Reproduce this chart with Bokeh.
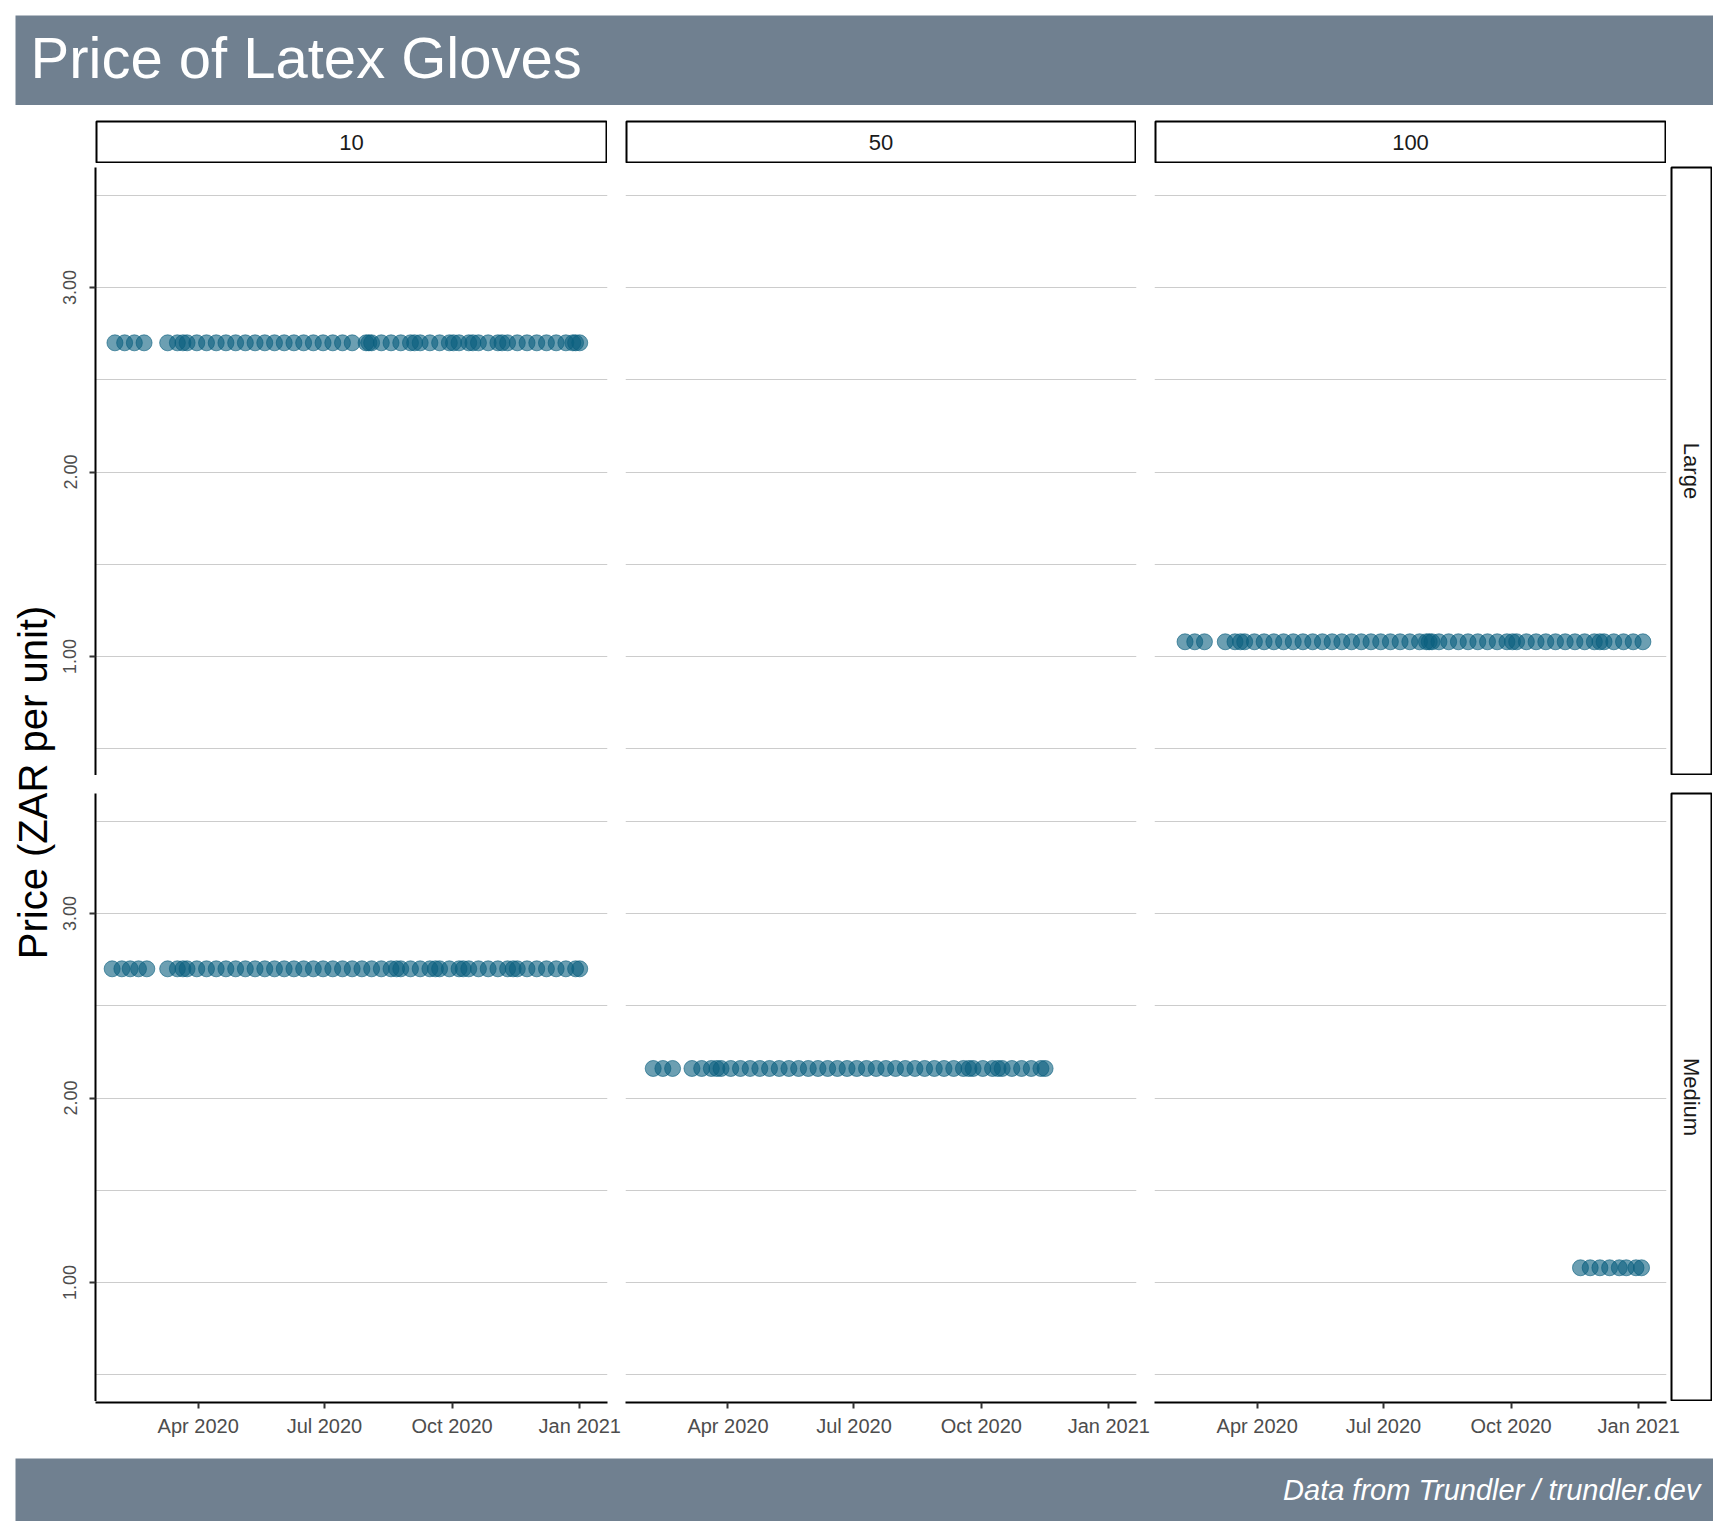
import math
from datetime import datetime
from bokeh.plotting import figure
from bokeh.models import (ColumnDataSource, FixedTicker, DatetimeTickFormatter, Range1d,
                          Label, Spacer, DatetimeAxis, LinearAxis, Grid, NumeralTickFormatter)
from bokeh.layouts import row, column
from bokeh.embed import file_html
from bokeh.resources import INLINE

# ---------------- data ----------------
TITLE = "Price of Latex Gloves"
CAPTION = "Data from Trundler / trundler.dev"
Y_LABEL = "Price (ZAR per unit)"
PACK_SIZES = ["10", "50", "100"]
GLOVE_SIZES = ["Large", "Medium"]
Y_TICKS = [1.0, 2.0, 3.0]
Y_GRID = [0.5, 1.0, 1.5, 2.0, 2.5, 3.0, 3.5]
Y_LIMITS = [0.35, 3.65]
X_TICK_DATES = ["2020-04-01", "2020-07-01", "2020-10-01", "2021-01-01"]
X_LIMITS = ["2020-01-18", "2021-01-21"]

dates_large_10 = ["2020-02-01", "2020-02-08", "2020-02-15", "2020-02-22", "2020-03-10", "2020-03-17",
                  "2020-03-21", "2020-03-24", "2020-03-31", "2020-04-07", "2020-04-14", "2020-04-21",
                  "2020-04-28", "2020-05-05", "2020-05-12", "2020-05-19", "2020-05-26", "2020-06-02",
                  "2020-06-09", "2020-06-16", "2020-06-23", "2020-06-30", "2020-07-07", "2020-07-14",
                  "2020-07-21", "2020-07-31", "2020-08-02", "2020-08-04", "2020-08-11", "2020-08-18",
                  "2020-08-25", "2020-09-01", "2020-09-04", "2020-09-08", "2020-09-15", "2020-09-22",
                  "2020-09-29", "2020-10-02", "2020-10-06", "2020-10-13", "2020-10-16", "2020-10-20",
                  "2020-10-27", "2020-11-03", "2020-11-06", "2020-11-10", "2020-11-17", "2020-11-24",
                  "2020-12-01", "2020-12-08", "2020-12-15", "2020-12-22", "2020-12-27", "2020-12-29",
                  "2021-01-01"]
price_large_10 = 2.70

dates_medium_10 = ["2020-01-30", "2020-02-06", "2020-02-12", "2020-02-18", "2020-02-24", "2020-03-10",
                   "2020-03-17", "2020-03-21", "2020-03-24", "2020-03-31", "2020-04-07", "2020-04-14",
                   "2020-04-21", "2020-04-28", "2020-05-05", "2020-05-12", "2020-05-19", "2020-05-26",
                   "2020-06-02", "2020-06-09", "2020-06-16", "2020-06-23", "2020-06-30", "2020-07-07",
                   "2020-07-14", "2020-07-21", "2020-07-28", "2020-08-04", "2020-08-11", "2020-08-18",
                   "2020-08-22", "2020-08-25", "2020-09-01", "2020-09-08", "2020-09-15", "2020-09-19",
                   "2020-09-22", "2020-09-29", "2020-10-06", "2020-10-09", "2020-10-13", "2020-10-20",
                   "2020-10-27", "2020-11-03", "2020-11-10", "2020-11-14", "2020-11-17", "2020-11-24",
                   "2020-12-01", "2020-12-08", "2020-12-15", "2020-12-22", "2020-12-29", "2021-01-01"]
price_medium_10 = 2.70

dates_medium_50 = ["2020-02-07", "2020-02-14", "2020-02-21", "2020-03-06", "2020-03-13", "2020-03-20",
                   "2020-03-24", "2020-03-27", "2020-04-03", "2020-04-10", "2020-04-17", "2020-04-24",
                   "2020-05-01", "2020-05-08", "2020-05-15", "2020-05-22", "2020-05-29", "2020-06-05",
                   "2020-06-12", "2020-06-19", "2020-06-26", "2020-07-03", "2020-07-10", "2020-07-17",
                   "2020-07-24", "2020-07-31", "2020-08-07", "2020-08-14", "2020-08-21", "2020-08-28",
                   "2020-09-04", "2020-09-11", "2020-09-18", "2020-09-22", "2020-09-25", "2020-10-02",
                   "2020-10-09", "2020-10-13", "2020-10-16", "2020-10-23", "2020-10-30", "2020-11-06",
                   "2020-11-13", "2020-11-16"]
price_medium_50 = 2.16

dates_large_100 = ["2020-02-09", "2020-02-16", "2020-02-23", "2020-03-09", "2020-03-16", "2020-03-20",
                   "2020-03-23", "2020-03-30", "2020-04-06", "2020-04-13", "2020-04-20", "2020-04-27",
                   "2020-05-04", "2020-05-11", "2020-05-18", "2020-05-25", "2020-06-01", "2020-06-08",
                   "2020-06-15", "2020-06-22", "2020-06-29", "2020-07-06", "2020-07-13", "2020-07-20",
                   "2020-07-27", "2020-08-01", "2020-08-03", "2020-08-05", "2020-08-10", "2020-08-17",
                   "2020-08-24", "2020-08-31", "2020-09-07", "2020-09-14", "2020-09-21", "2020-09-28",
                   "2020-10-02", "2020-10-05", "2020-10-12", "2020-10-19", "2020-10-26", "2020-11-02",
                   "2020-11-09", "2020-11-16", "2020-11-23", "2020-11-30", "2020-12-04", "2020-12-07",
                   "2020-12-14", "2020-12-21", "2020-12-28", "2021-01-04"]
price_large_100 = 1.08

dates_medium_100 = ["2020-11-20", "2020-11-27", "2020-12-04", "2020-12-11", "2020-12-18",
                    "2020-12-23", "2020-12-30", "2021-01-03"]
price_medium_100 = 1.08

SERIES = {
    ("Large", "10"): (dates_large_10, price_large_10),
    ("Large", "100"): (dates_large_100, price_large_100),
    ("Medium", "10"): (dates_medium_10, price_medium_10),
    ("Medium", "50"): (dates_medium_50, price_medium_50),
    ("Medium", "100"): (dates_medium_100, price_medium_100),
}

# ---------------- style ----------------
BANNER = "#708090"
POINT = "#0A5F7E"
GRID_COL = "#cccccc"
TICK_TXT = "#4d4d4d"
FONT = "Liberation Sans"
FW = [512, 511, 512]
FH = 609
YLAB_W = 58
LEFT_BORDER = 95 - YLAB_W


def d(s):
    return datetime.strptime(s, "%Y-%m-%d")


def bare(w, h, **kw):
    p = figure(frame_width=w, frame_height=h, x_axis_type=None, y_axis_type=None,
               toolbar_location=None, output_backend="svg",
               x_range=Range1d(0, 1), y_range=Range1d(0, 1), **kw)
    p.outline_line_color = None
    return p


def strip(label, w, h, vertical=False):
    p = bare(w - 2, h - 2, min_border=1)
    p.outline_line_color = "black"
    p.outline_line_width = 2
    p.background_fill_color = "white"
    p.add_layout(Label(x=0.5, y=0.5, text=label, text_align="center", text_baseline="middle",
                       angle=(-math.pi / 2 if vertical else 0), text_font=FONT,
                       text_font_size="22px", text_color="#1a1a1a"))
    return p


def panel(r, c):
    glove = GLOVE_SIZES[r]
    pack = PACK_SIZES[c]
    p = figure(frame_width=FW[c], frame_height=FH, x_axis_type=None, y_axis_type=None,
               toolbar_location=None, output_backend="svg",
               x_range=Range1d(d(X_LIMITS[0]), d(X_LIMITS[1])),
               y_range=Range1d(Y_LIMITS[0], Y_LIMITS[1]),
               min_border_left=(LEFT_BORDER if c == 0 else 0), min_border_right=(18 if c < 2 else 4),
               min_border_top=0, min_border_bottom=0)
    p.outline_line_color = None
    p.add_layout(Grid(dimension=1, ticker=FixedTicker(ticks=Y_GRID),
                      grid_line_color=GRID_COL, grid_line_width=1))
    if c == 0:
        ax = LinearAxis(ticker=FixedTicker(ticks=Y_TICKS), formatter=NumeralTickFormatter(format="0.00"))
        ax.major_label_orientation = "vertical"
        ax.major_label_text_font = FONT
        ax.major_label_text_font_size = "18px"
        ax.major_label_text_color = TICK_TXT
        ax.major_label_standoff = 13
        ax.major_tick_out = 6
        ax.major_tick_in = 0
        ax.major_tick_line_width = 2
        ax.major_tick_line_color = "#333333"
        ax.minor_tick_out = 0
        ax.minor_tick_in = 0
        ax.axis_line_width = 2
        ax.axis_line_color = "black"
        p.add_layout(ax, "left")
    key = (glove, pack)
    if key in SERIES:
        dates, price = SERIES[key]
        src = ColumnDataSource(dict(date=[d(s) for s in dates], price=[price] * len(dates)))
        p.scatter("date", "price", source=src, size=16, fill_color=POINT, fill_alpha=0.6,
                  line_color=POINT, line_alpha=0.6, line_width=1)
    return p


def axis_fig(c):
    p = figure(frame_width=FW[c], frame_height=1, x_axis_type=None, y_axis_type=None,
               toolbar_location=None, output_backend="svg",
               x_range=Range1d(d(X_LIMITS[0]), d(X_LIMITS[1])), y_range=Range1d(0, 1),
               min_border_left=(LEFT_BORDER if c == 0 else 0), min_border_right=(18 if c < 2 else 46),
               min_border_top=0, min_border_bottom=42)
    p.outline_line_color = None
    fmt = "%b %Y"
    ax = DatetimeAxis(ticker=FixedTicker(ticks=[d(s).timestamp() * 1000 for s in X_TICK_DATES]),
                      formatter=DatetimeTickFormatter(days=fmt, months=fmt, years=fmt, hours=fmt,
                                                      minutes=fmt, seconds=fmt, milliseconds=fmt,
                                                      microseconds=fmt, minsec=fmt, hourmin=fmt))
    ax.major_label_text_font = FONT
    ax.major_label_text_font_size = "20px"
    ax.major_label_text_color = TICK_TXT
    ax.major_label_standoff = 6
    ax.major_tick_out = 6
    ax.major_tick_in = 0
    ax.major_tick_line_width = 2
    ax.major_tick_line_color = "#333333"
    ax.minor_tick_out = 0
    ax.minor_tick_in = 0
    ax.axis_line_width = 2
    ax.axis_line_color = "black"
    p.add_layout(ax, "below")
    return p


# title banner
title_fig = bare(1698, 90, min_border=0)
title_fig.background_fill_color = BANNER
title_fig.border_fill_color = BANNER
title_fig.add_layout(Label(x=0, y=0.53, x_offset=15, text=TITLE, text_baseline="middle",
                           text_font=FONT, text_font_size="58px", text_color="white"))

# footer banner
foot_fig = bare(1698, 63, min_border=0)
foot_fig.background_fill_color = BANNER
foot_fig.border_fill_color = BANNER
foot_fig.add_layout(Label(x=1, y=0.5, x_offset=-13, text=CAPTION, text_align="right",
                          text_baseline="middle", text_font=FONT, text_font_style="italic",
                          text_font_size="29px", text_color="white"))

# y label
GRID_H = 43 + 3 + FH + 17 + FH + 43
ylab_fig = figure(frame_width=YLAB_W, frame_height=GRID_H, x_axis_type=None, y_axis_type=None,
                  toolbar_location=None, output_backend="svg", min_border=0,
                  x_range=Range1d(0, YLAB_W), y_range=Range1d(0, GRID_H))
ylab_fig.outline_line_color = None
ylab_fig.add_layout(Label(x=32, y=GRID_H - 662, text=Y_LABEL, angle=math.pi / 2, text_align="center",
                          text_baseline="middle", text_font=FONT, text_font_size="40px",
                          text_color="black"))

strips_row = row(Spacer(width=LEFT_BORDER, height=43), strip(PACK_SIZES[0], 512, 43),
                 Spacer(width=18, height=43), strip(PACK_SIZES[1], 511, 43),
                 Spacer(width=18, height=43), strip(PACK_SIZES[2], 512, 43))
row1 = row(panel(0, 0), panel(0, 1), panel(0, 2), strip(GLOVE_SIZES[0], 42, FH, vertical=True))
row2 = row(panel(1, 0), panel(1, 1), panel(1, 2), strip(GLOVE_SIZES[1], 42, FH, vertical=True))
axis_row = row(axis_fig(0), axis_fig(1), axis_fig(2))

grid_col = column(strips_row, Spacer(width=10, height=3), row1, Spacer(width=10, height=17), row2, axis_row)

layout = column(
    Spacer(width=10, height=15),
    row(Spacer(width=15, height=90), title_fig),
    Spacer(width=10, height=15),
    row(ylab_fig, grid_col),
    Spacer(width=10, height=14),
    row(Spacer(width=15, height=63), foot_fig),
)

open("out.html", "w").write(file_html(layout, INLINE))
